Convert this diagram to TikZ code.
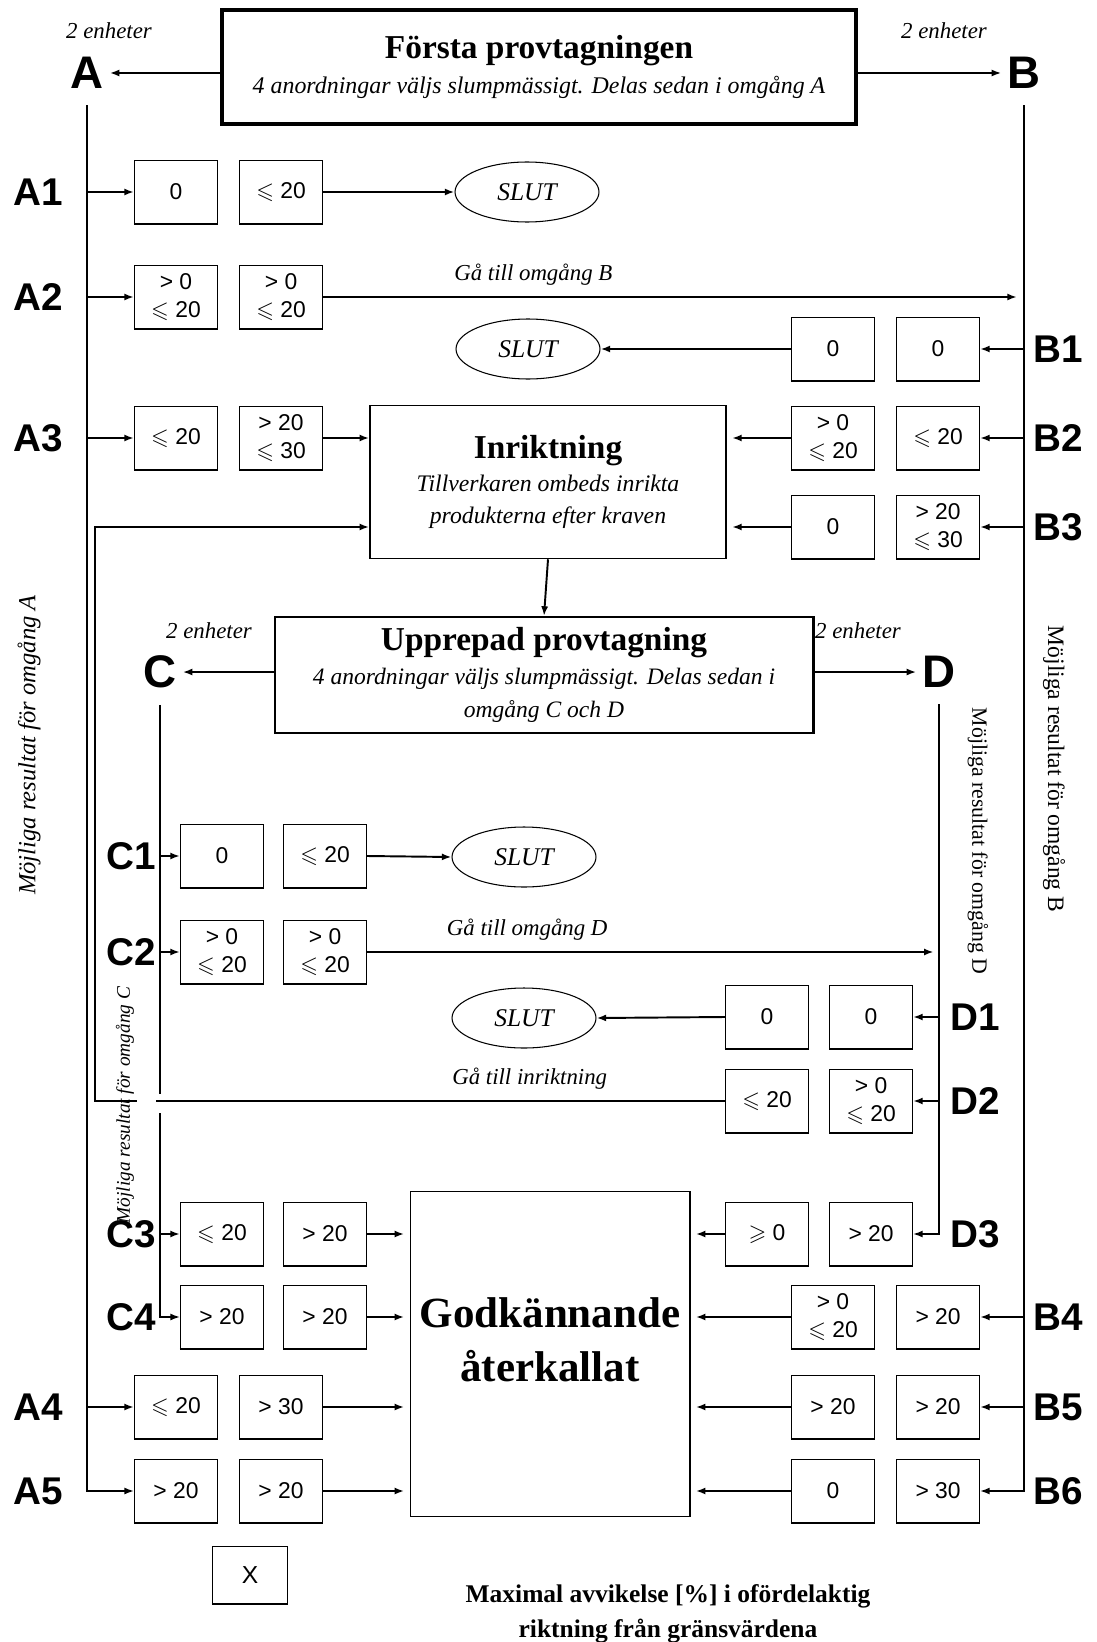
\documentclass[tikz,border=0pt]{standalone}
\usepackage{amssymb}
\usepackage{fontspec}
\setmainfont{Liberation Serif}
\setsansfont{Liberation Sans}
\usetikzlibrary{arrows.meta,shapes.geometric,positioning}

\newcommand{\fsz}[2]{\fontsize{#1}{#2}\selectfont}
\newcommand{\leqs}{$\leqslant$}
\newcommand{\geqs}{$\geqslant$}

\tikzset{
  >={Latex[length=5.5pt,width=4pt]},
  flow/.style={->,line width=1.1pt},
  trunk/.style={line width=0.9pt},
  cellbox/.style={draw,line width=0.6pt,minimum width=1.66cm,minimum height=1.26cm,
    inner sep=0pt,align=center,font=\sffamily\fsz{13}{16}},
  stagebox/.style={draw,align=center},
  endoval/.style={draw,ellipse,line width=0.6pt,minimum width=2.88cm,minimum height=1.2cm,
    inner sep=0pt,font=\itshape\fsz{14.5}{16}},
  roundtag/.style={font=\sffamily\bfseries\fsz{26}{26}},
  rowtag/.style={font=\sffamily\bfseries\fsz{22}{22}},
  unitnote/.style={font=\itshape\fsz{13}{15}},
  gonote/.style={above=3pt,font=\itshape\fsz{13}{15}},
  sidenote/.style={font=\fsz{13.4}{15}},
}

\begin{document}
\begin{tikzpicture}[x=0.02cm,y=-0.02cm]
  \useasboundingbox (0,0) rectangle (1096,1642);

  % First sampling
  \node[stagebox,line width=1.8pt,minimum width=12.68cm,minimum height=2.28cm,font=\fsz{13.6}{20}]
    (first) at (539,67) {{\bfseries\fsz{19}{20}Första provtagningen}\\
    {\itshape 4 anordningar väljs slumpmässigt. Delas sedan i omgång A}};
  \node[roundtag] (A) at (87,73) {A};
  \node[roundtag] (B) at (1024,73) {B};
  \node[unitnote] (unitA) at (109,31) {2 enheter};
  \node[unitnote] (unitB) at (944,31) {2 enheter};
  \draw[flow] (first.west |- A) -- (A.east);
  \draw[flow] (first.east |- B) -- (B.west);

  % Side notes
  \node[sidenote,font=\itshape\fsz{14}{15},rotate=90] (noteA) at (29,745) {Möjliga resultat för omgång A};
  \node[sidenote,rotate=-90] (noteB) at (1054,769) {Möjliga resultat för omgång B};
  \node[sidenote,font=\fsz{12.4}{14},rotate=-90] (noteD) at (978,841) {Möjliga resultat för omgång D};
  \node[sidenote,font=\itshape\fsz{11}{12},rotate=90] (noteC) at (125,1105) {Möjliga resultat för omgång C};

  % Alignment
  \node[stagebox,line width=0.9pt,minimum width=7.12cm,minimum height=3.06cm,font=\itshape\fsz{13.5}{18}]
    (align) at (548,482) {{\upshape\bfseries\fsz{19}{18}Inriktning}\\[1pt]
    Tillverkaren ombeds inrikta\\produkterna efter kraven};

  % Repeated sampling
  \node[stagebox,line width=1.2pt,minimum width=10.78cm,minimum height=2.32cm,font=\fsz{13.4}{19}]
    (repeat) at (544,675) {{\bfseries\fsz{19}{19}Upprepad provtagning}\\
    {\itshape 4 anordningar väljs slumpmässigt. Delas sedan i}\\{\itshape omgång C och D}};
  \node[roundtag] (C) at (160,672) {C};
  \node[roundtag] (D) at (939,672) {D};
  \node[unitnote] (unitC) at (209,631) {2 enheter};
  \node[unitnote] (unitD) at (858,631) {2 enheter};
  \draw[flow] (align.south) -- (repeat.north);
  \draw[flow] (repeat.west |- C) -- (C.east);
  \draw[flow] (repeat.east |- D) -- (D.west);

  % Withdrawal
  \node[draw,line width=0.6pt,minimum width=5.6cm,minimum height=6.5cm] (recall) at (550,1354) {};
  \node[font=\bfseries\fsz{24.5}{31},align=center] (recalltext) at (550,1340) {Godkännande\\återkallat};

  % Round A
  \node[rowtag] (tA1) at (38,192) {A1};
  \node[cellbox] (a1a) at (176,192) {0};
  \node[cellbox,right=0.42cm of a1a] (a1b) {\leqs\ 20};
  \node[endoval] (endA1) at (527,192) {SLUT};

  \node[rowtag] (tA2) at (38,297) {A2};
  \node[cellbox] (a2a) at (176,297) {> 0\\\leqs\ 20};
  \node[cellbox,right=0.42cm of a2a] (a2b) {> 0\\\leqs\ 20};

  \node[rowtag] (tA3) at (38,438) {A3};
  \node[cellbox] (a3a) at (176,438) {\leqs\ 20};
  \node[cellbox,right=0.42cm of a3a] (a3b) {> 20\\\leqs\ 30};

  \node[rowtag] (tA4) at (38,1407) {A4};
  \node[cellbox] (a4a) at (176,1407) {\leqs\ 20};
  \node[cellbox,right=0.42cm of a4a] (a4b) {> 30};

  \node[rowtag] (tA5) at (38,1491) {A5};
  \node[cellbox] (a5a) at (176,1491) {> 20};
  \node[cellbox,right=0.42cm of a5a] (a5b) {> 20};

  % Round B
  \node[rowtag] (tB1) at (1058,349) {B1};
  \node[cellbox] (b1a) at (833,349) {0};
  \node[cellbox,right=0.42cm of b1a] (b1b) {0};
  \node[endoval] (endB1) at (528,349) {SLUT};

  \node[rowtag] (tB2) at (1058,438) {B2};
  \node[cellbox] (b2a) at (833,438) {> 0\\\leqs\ 20};
  \node[cellbox,right=0.42cm of b2a] (b2b) {\leqs\ 20};

  \node[rowtag] (tB3) at (1058,527) {B3};
  \node[cellbox] (b3a) at (833,527) {0};
  \node[cellbox,right=0.42cm of b3a] (b3b) {> 20\\\leqs\ 30};

  \node[rowtag] (tB4) at (1058,1317) {B4};
  \node[cellbox] (b4a) at (833,1317) {> 0\\\leqs\ 20};
  \node[cellbox,right=0.42cm of b4a] (b4b) {> 20};

  \node[rowtag] (tB5) at (1058,1407) {B5};
  \node[cellbox] (b5a) at (833,1407) {> 20};
  \node[cellbox,right=0.42cm of b5a] (b5b) {> 20};

  \node[rowtag] (tB6) at (1058,1491) {B6};
  \node[cellbox] (b6a) at (833,1491) {0};
  \node[cellbox,right=0.42cm of b6a] (b6b) {> 30};

  % Round C
  \node[rowtag] (tC1) at (131,856) {C1};
  \node[cellbox] (c1a) at (222,856) {0};
  \node[cellbox,right=0.38cm of c1a] (c1b) {\leqs\ 20};
  \node[endoval] (endC1) at (524,857) {SLUT};

  \node[rowtag] (tC2) at (131,952) {C2};
  \node[cellbox] (c2a) at (222,952) {> 0\\\leqs\ 20};
  \node[cellbox,right=0.38cm of c2a] (c2b) {> 0\\\leqs\ 20};

  \node[rowtag] (tC3) at (131,1234) {C3};
  \node[cellbox] (c3a) at (222,1234) {\leqs\ 20};
  \node[cellbox,right=0.38cm of c3a] (c3b) {> 20};

  \node[rowtag] (tC4) at (131,1317) {C4};
  \node[cellbox] (c4a) at (222,1317) {> 20};
  \node[cellbox,right=0.38cm of c4a] (c4b) {> 20};

  % Round D
  \node[rowtag] (tD1) at (975,1017) {D1};
  \node[cellbox] (d1a) at (767,1017) {0};
  \node[cellbox,right=0.4cm of d1a] (d1b) {0};
  \node[endoval] (endD1) at (524,1018) {SLUT};

  \node[rowtag] (tD2) at (975,1101) {D2};
  \node[cellbox] (d2a) at (767,1101) {\leqs\ 20};
  \node[cellbox,right=0.4cm of d2a] (d2b) {> 0\\\leqs\ 20};

  \node[rowtag] (tD3) at (975,1234) {D3};
  \node[cellbox] (d3a) at (767,1234) {\geqs\ 0};
  \node[cellbox,right=0.4cm of d3a] (d3b) {> 20};

  % Legend and caption
  \node[cellbox,minimum width=1.5cm,minimum height=1.14cm,font=\sffamily\fsz{14}{16}] (legend) at (250,1575) {X};
  \node[font=\bfseries\fsz{14.5}{20},align=center] (caption) at (668,1614)
    {Maximal avvikelse [\%] i ofördelaktig\\riktning från gränsvärdena};

  % Thick lower edges
  \foreach \c in {a1a,a1b,a2a,a2b,a3a,a3b,a4a,a4b,a5a,a5b,b1a,b1b,b2a,b2b,b3a,b3b,b4a,b4b,b5a,b5b,b6a,b6b,
                  c1a,c1b,c2a,c2b,c3a,c3b,c4a,c4b,d1a,d1b,d2a,d2b,d3a,d3b,legend}
    \draw[line width=1.4pt] (\c.south west) -- (\c.south east);

  % Trunks
  \draw[trunk,->] ([yshift=-6pt]A.south) |- (a5a.west);
  \draw[trunk,->] ([yshift=-6pt]B.south) |- (b6b.east);
  \draw[trunk,->] ([yshift=-6pt]C.south) |- (c4a.west);
  \draw[trunk,->] ([yshift=-6pt]D.south) |- (d3b.east);
  \draw[white,line width=3pt] (C |- 0,1094) -- (C |- 0,1113);

  % Round A arrows
  \draw[flow] (A |- a1a.west) -- (a1a.west);
  \draw[flow] (a1b.east) -- (endA1.west);
  \draw[flow] (A |- a2a.west) -- (a2a.west);
  \draw[flow,shorten >=4pt] (a2b.east) -- node[gonote,pos=0.3] (goB) {Gå till omgång B} (a2b.east -| B);
  \draw[flow] (A |- a3a.west) -- (a3a.west);
  \draw[flow] (a3b.east) -- (align.west |- a3b.east);
  \draw[flow] (A |- a4a.west) -- (a4a.west);
  \draw[flow,shorten >=3pt] (a4b.east) -- (recall.west |- a4b.east);
  \draw[flow,shorten >=3pt] (a5b.east) -- (recall.west |- a5b.east);

  % Round B arrows
  \draw[flow] (B |- b1b.east) -- (b1b.east);
  \draw[flow] (b1a.west) -- (endB1.east);
  \draw[flow] (B |- b2b.east) -- (b2b.east);
  \draw[flow,shorten >=3pt] (b2a.west) -- (align.east |- b2a.west);
  \draw[flow] (B |- b3b.east) -- (b3b.east);
  \draw[flow,shorten >=3pt] (b3a.west) -- (align.east |- b3a.west);
  \draw[flow] (B |- b4b.east) -- (b4b.east);
  \draw[flow,shorten >=3pt] (b4a.west) -- (recall.east |- b4a.west);
  \draw[flow] (B |- b5b.east) -- (b5b.east);
  \draw[flow,shorten >=3pt] (b5a.west) -- (recall.east |- b5a.west);
  \draw[flow,shorten >=3pt] (b6a.west) -- (recall.east |- b6a.west);

  % Round C arrows
  \draw[flow] (C |- c1a.west) -- (c1a.west);
  \draw[flow] (c1b.east) -- (endC1.west);
  \draw[flow] (C |- c2a.west) -- (c2a.west);
  \draw[flow,shorten >=3pt] (c2b.east) -- node[gonote,pos=0.28] (goD) {Gå till omgång D} (c2b.east -| D);
  \draw[flow] (C |- c3a.west) -- (c3a.west);
  \draw[flow,shorten >=3pt] (c3b.east) -- (recall.west |- c3b.east);
  \draw[flow,shorten >=3pt] (c4b.east) -- (recall.west |- c4b.east);

  % Round D arrows
  \draw[flow] (D |- d1b.east) -- (d1b.east);
  \draw[flow] (d1a.west) -- (endD1.east);
  \draw[flow] (D |- d2b.east) -- (d2b.east);
  \draw[flow,shorten >=3pt] (d3a.west) -- (recall.east |- d3a.west);

  % Back to alignment
  \coordinate (back) at (95,527);
  \draw[flow] (d2a.west) -- node[gonote,pos=0.31] (goAlign) {Gå till inriktning} (d2a.west -| back)
    -- (back) -- (back -| align.west);
  \draw[white,line width=3pt] (137,1101) -- (156,1101);
\end{tikzpicture}
\end{document}
